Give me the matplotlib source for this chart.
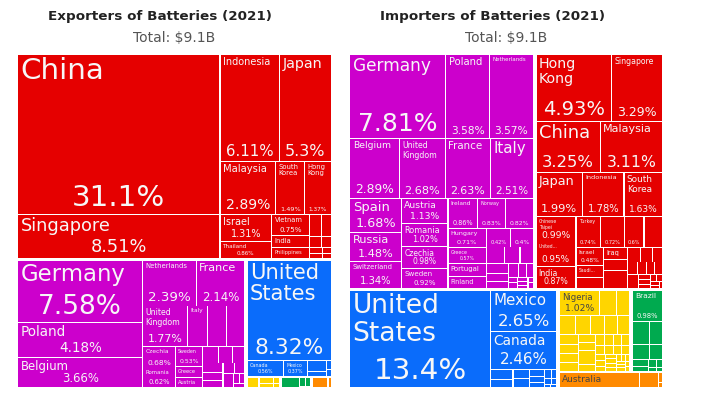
import matplotlib
matplotlib.use("Agg")
import matplotlib.pyplot as plt
from matplotlib.patches import Rectangle
from matplotlib.font_manager import FontProperties

# ---------------- data (share of world trade, %) ----------------
# Exporters of Batteries (2021)
exp_asia = ["China", "Singapore", "Indonesia", "Japan", "Malaysia", "South Korea",
            "Hong Kong", "Israel", "Thailand", "Vietnam", "India", "Philippines",
            "United Arab Emirates", "Turkey", "Saudi Arabia", "Kazakhstan", "Iran",
            "Sri Lanka", "Pakistan", "Qatar"]
exp_asia_v = [31.1, 8.51, 6.11, 5.3, 2.89, 1.49, 1.37, 1.31, 0.86, 0.75, 0.45, 0.38,
              0.25, 0.20, 0.12, 0.10, 0.08, 0.06, 0.05, 0.04]
exp_europe = ["Germany", "Poland", "Belgium", "Netherlands", "France", "United Kingdom",
              "Italy", "Hungary", "Spain", "Czechia", "Romania", "Sweden", "Greece",
              "Austria", "Portugal", "Denmark", "Finland", "Switzerland", "Lithuania",
              "Serbia", "Slovenia", "Estonia", "Croatia", "Bulgaria", "Norway",
              "Latvia", "Ireland"]
exp_europe_v = [7.58, 4.18, 3.66, 2.39, 2.14, 1.77, 0.78, 0.74, 0.71, 0.68, 0.62, 0.53,
                0.29, 0.28, 0.25, 0.22, 0.20, 0.18, 0.16, 0.14, 0.12, 0.10, 0.08, 0.07,
                0.06, 0.05, 0.04]
exp_namerica = ["United States", "Canada", "Mexico", "Dominican Republic", "Costa Rica",
                "Guatemala", "Honduras"]
exp_namerica_v = [8.32, 0.56, 0.37, 0.22, 0.08, 0.04, 0.03]
exp_africa = ["South Africa", "Morocco", "Egypt", "Tunisia", "Kenya"]
exp_africa_v = [0.14, 0.10, 0.07, 0.04, 0.03]
exp_samerica = ["Brazil", "Colombia", "Chile", "Peru"]
exp_samerica_v = [0.21, 0.06, 0.05, 0.02]
exp_oceania = ["Australia", "New Zealand"]
exp_oceania_v = [0.19, 0.04]

# Importers of Batteries (2021)
imp_europe = ["Germany", "Poland", "Netherlands", "Belgium", "United Kingdom", "France",
              "Italy", "Spain", "Russia", "Switzerland", "Austria", "Romania", "Czechia",
              "Sweden", "Ireland", "Norway", "Denmark", "Hungary", "Greece", "Portugal",
              "Finland", "Slovakia", "Ukraine", "Lithuania", "Slovenia", "Croatia",
              "Bulgaria", "Serbia", "Estonia", "Latvia", "Luxembourg", "Belarus",
              "Iceland", "Bosnia and Herzegovina", "Malta", "Cyprus", "North Macedonia",
              "Albania", "Moldova"]
imp_europe_v = [7.81, 3.58, 3.57, 2.89, 2.68, 2.63, 2.51, 1.68, 1.48, 1.34, 1.13, 1.02,
                0.98, 0.92, 0.86, 0.83, 0.82, 0.71, 0.57, 0.50, 0.45, 0.42, 0.40, 0.30,
                0.25, 0.22, 0.20, 0.18, 0.15, 0.13, 0.10, 0.09, 0.05, 0.05, 0.04, 0.04,
                0.03, 0.03, 0.03]
imp_asia = ["Hong Kong", "Singapore", "China", "Malaysia", "Japan", "Indonesia",
            "South Korea", "Chinese Taipei", "United Arab Emirates", "India", "Turkey",
            "Vietnam", "Philippines", "Thailand", "Israel", "Saudi Arabia", "Kazakhstan",
            "Iraq", "Bangladesh", "Pakistan", "Qatar", "Kuwait", "Sri Lanka", "Jordan",
            "Oman", "Lebanon", "Cambodia", "Myanmar", "Uzbekistan", "Nepal", "Georgia",
            "Azerbaijan", "Mongolia", "Bahrain", "Armenia", "Iran", "Laos", "Kyrgyzstan"]
imp_asia_v = [4.93, 3.29, 3.25, 3.11, 1.99, 1.78, 1.63, 0.99, 0.95, 0.87, 0.74, 0.72,
              0.60, 0.55, 0.48, 0.33, 0.30, 0.28, 0.25, 0.22, 0.20, 0.18, 0.16, 0.14,
              0.12, 0.11, 0.10, 0.09, 0.08, 0.07, 0.06, 0.05, 0.05, 0.04, 0.04, 0.03,
              0.03, 0.02]
imp_namerica = ["United States", "Mexico", "Canada", "Panama", "Guatemala", "Costa Rica",
                "Dominican Republic", "Honduras", "Jamaica", "El Salvador", "Nicaragua",
                "Trinidad and Tobago", "Bahamas", "Haiti", "Barbados", "Cuba"]
imp_namerica_v = [13.4, 2.65, 2.46, 0.22, 0.18, 0.15, 0.14, 0.11, 0.09, 0.07, 0.06,
                  0.05, 0.04, 0.03, 0.02, 0.02]
imp_africa = ["Nigeria", "Egypt", "Kenya", "Morocco", "Ghana", "Algeria", "South Africa",
              "Tanzania", "Ethiopia", "Senegal", "Cote d'Ivoire", "Uganda", "Cameroon",
              "Angola", "DR Congo", "Tunisia", "Zambia", "Mozambique", "Benin", "Togo",
              "Mali", "Burkina Faso", "Guinea", "Madagascar", "Libya", "Sudan", "Niger",
              "Rwanda", "Zimbabwe", "Malawi", "Namibia", "Botswana", "Congo", "Gabon",
              "Mauritius", "Liberia", "Sierra Leone", "Somalia", "Djibouti", "Chad"]
imp_africa_v = [1.02, 0.42, 0.34, 0.30, 0.28, 0.26, 0.25, 0.22, 0.20, 0.18, 0.17, 0.16,
                0.15, 0.14, 0.13, 0.12, 0.11, 0.10, 0.10, 0.09, 0.09, 0.08, 0.08, 0.07,
                0.07, 0.06, 0.06, 0.05, 0.05, 0.05, 0.04, 0.04, 0.04, 0.03, 0.03, 0.03,
                0.03, 0.03, 0.02, 0.02]
imp_samerica = ["Brazil", "Chile", "Peru", "Colombia", "Argentina", "Ecuador", "Uruguay",
                "Paraguay", "Bolivia", "Venezuela", "Guyana"]
imp_samerica_v = [0.98, 0.42, 0.30, 0.28, 0.20, 0.12, 0.08, 0.07, 0.05, 0.03, 0.02]
imp_oceania = ["Australia", "New Zealand", "Papua New Guinea", "Fiji"]
imp_oceania_v = [1.29, 0.30, 0.04, 0.02]

titles = ["Exporters of Batteries (2021)", "Importers of Batteries (2021)"]
totals = ["Total: $9.1B", "Total: $9.1B"]

colors = {"asia": "#e50000", "europe": "#cc00cc", "namerica": "#0a6cfb",
          "africa": "#ffd500", "samerica": "#00aa4f", "oceania": "#ff8a00"}
dark_on = {"africa", "oceania"}

# ---------------- geometry / style ----------------
DPI = 100
W_PX, H_PX = 705, 395
PANELS = [(16, 53, 333, 389), (348, 53, 664, 389)]   # pixel box of each treemap
K = 0.735           # the reference is horizontally stretched: layout in unstretched units
PAD = 0.9           # d3 treemap padding
ST = 1.19           # width factor of the (stretched) reference font vs DejaVu
RS = 1.05           # render scale of label text
FMIN, FMAX = 4.3, 28.0
LH = 1.15
PADX, PADY = 2.2, 2.0
PHI = (1 + 5 ** 0.5) / 2


def squarify(vals, x0, y0, x1, y1):
    # port of d3.treemapSquarify (golden ratio)
    out = [None] * len(vals)
    value = sum(vals)
    n = len(vals)
    i0 = i1 = 0
    while i0 < n:
        dx, dy = x1 - x0, y1 - y0
        s = vals[i1]
        i1 += 1
        lo = hi = s
        alpha = max(dy / dx, dx / dy) / (value * PHI)
        beta = s * s * alpha
        best = max(hi / beta, beta / lo)
        while i1 < n:
            v = vals[i1]
            s2 = s + v
            lo2, hi2 = min(lo, v), max(hi, v)
            beta = s2 * s2 * alpha
            r = max(hi2 / beta, beta / lo2)
            if r > best:
                break
            s, lo, hi, best = s2, lo2, hi2, r
            i1 += 1
        if dx < dy:
            yb = y0 + dy * s / value
            xx = x0
            for i in range(i0, i1):
                w = (x1 - x0) * vals[i] / s
                out[i] = (xx, y0, xx + w, yb)
                xx += w
            y0 = yb
        else:
            xb = x0 + dx * s / value
            yy = y0
            for i in range(i0, i1):
                h = (y1 - y0) * vals[i] / s
                out[i] = (x0, yy, xb, yy + h)
                yy += h
            x0 = xb
        value -= s
        i0 = i1
    return out


def layout(groups, W, H):
    groups = sorted(groups, key=lambda g: -sum(g[2]))
    crect = squarify([sum(g[2]) for g in groups], PAD / 2, PAD / 2, W - PAD / 2, H - PAD / 2)
    leaves = []
    for (key, names, vals), (a, b, c, d) in zip(groups, crect):
        a, b, c, d = a + PAD / 2, b + PAD / 2, c - PAD / 2, d - PAD / 2
        order = sorted(range(len(vals)), key=lambda i: -vals[i])
        rr = squarify([vals[i] for i in order], a + PAD / 2, b + PAD / 2, c - PAD / 2, d - PAD / 2)
        for i, (p, q, r, t) in zip(order, rr):
            leaves.append((key, names[i], vals[i],
                           (p + PAD / 2, q + PAD / 2, r - PAD / 2, t - PAD / 2)))
    return leaves


fig = plt.figure(figsize=(W_PX / DPI, H_PX / DPI), dpi=DPI)
renderer = fig.canvas.get_renderer()
_wcache = {}


def tw(s, px):
    if s not in _wcache:
        fp = FontProperties(family="DejaVu Sans", size=100 * 72 / DPI)
        _wcache[s] = renderer.get_text_width_height_descent(s, fp, ismath=False)[0] / 100
    return _wcache[s] * px * ST


def wrap(words, px, aw):
    lines, cur = [], None
    for wd in words:
        if tw(wd, px) > aw:
            return None
        if cur is None:
            cur = wd
        elif tw(cur + " " + wd, px) <= aw:
            cur += " " + wd
        else:
            lines.append(cur)
            cur = wd
    lines.append(cur)
    return lines


def fit_name(text, aw, ah):
    words = text.split()
    px = min(FMAX, ah / LH)
    while px >= FMIN:
        lines = wrap(words, px, aw)
        if lines and len(lines) * px * LH <= ah:
            return lines, px
        px -= 0.25
    px = FMIN
    nmax = int(ah // (px * LH))
    if nmax < 1 or tw(words[0], px) > aw:
        return None
    lines, cur = [], words[0]
    for wd in words[1:]:
        if tw(cur + " " + wd, px) <= aw:
            cur += " " + wd
        else:
            lines.append(cur)
            cur = wd
    lines.append(cur)
    if len(lines) <= nmax:
        return (lines, px) if all(tw(l, px) <= aw for l in lines) else None
    lines = lines[:nmax]
    last = lines[-1].split()
    while last and tw(" ".join(last) + "...", px) > aw:
        last.pop()
    if not last:
        return None
    lines[-1] = " ".join(last) + "..."
    return lines, px


def fit_share(s, aw, ah):
    px = min(FMAX, ah / LH, aw / tw(s, 1.0))
    return px if px >= FMIN else None


panels = [
    [("asia", exp_asia, exp_asia_v), ("europe", exp_europe, exp_europe_v),
     ("namerica", exp_namerica, exp_namerica_v), ("africa", exp_africa, exp_africa_v),
     ("samerica", exp_samerica, exp_samerica_v), ("oceania", exp_oceania, exp_oceania_v)],
    [("europe", imp_europe, imp_europe_v), ("asia", imp_asia, imp_asia_v),
     ("namerica", imp_namerica, imp_namerica_v), ("africa", imp_africa, imp_africa_v),
     ("samerica", imp_samerica, imp_samerica_v), ("oceania", imp_oceania, imp_oceania_v)],
]

for (px0, py0, px1, py1), groups, title, total in zip(PANELS, panels, titles, totals):
    Wd, Hd = (px1 - px0) * K, (py1 - py0)
    ax = fig.add_axes([px0 / W_PX, 1 - py1 / H_PX, (px1 - px0) / W_PX, (py1 - py0) / H_PX])
    ax.set_xlim(0, Wd)
    ax.set_ylim(Hd, 0)
    ax.axis("off")
    for key, name, v, (x0, y0, x1, y1) in layout(groups, Wd, Hd):
        ax.add_patch(Rectangle((x0, y0), x1 - x0, y1 - y0, facecolor=colors[key],
                               edgecolor="none", linewidth=0))
        tc = "#444444" if key in dark_on else "#f7f7f7"
        wpx, hpx = (x1 - x0) / K, y1 - y0
        aw = wpx - 2 * PADX
        if aw <= 0 or hpx <= 2 * PADY:
            continue
        share = f"{v:.3g}%"
        sh = min(34.0, (hpx - 2 * PADY) * 0.5)
        spx = fit_share(share, aw, sh)
        if spx:
            ax.text((x0 + x1) / 2, y1 - PADY, share, ha="center", va="bottom",
                    fontsize=spx * RS * 72 / DPI, color=tc, family="DejaVu Sans")
        else:
            sh = 0
        nm = fit_name(name, aw, hpx - sh - 2 * PADY)
        if nm:
            lines, npx = nm
            ax.text(x0 + PADX * K, y0 + PADY, "\n".join(lines), ha="left", va="top",
                    fontsize=npx * RS * 72 / DPI, color=tc, family="DejaVu Sans",
                    linespacing=1.1)
    fig.text((px0 + 32) / W_PX, 1 - 16.5 / H_PX, title, ha="left", va="center",
             fontsize=9.7, fontweight="bold", color="#222222", family="DejaVu Sans")
    fig.text((px0 + px1) / 2 / W_PX, 1 - 38 / H_PX, total, ha="center", va="center",
             fontsize=10, color="#555555", family="DejaVu Sans")

fig.savefig("out.png", dpi=DPI)
